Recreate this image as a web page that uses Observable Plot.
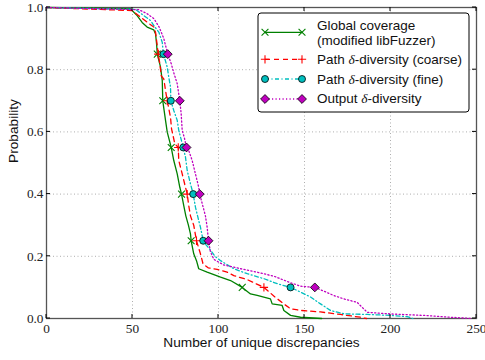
<!DOCTYPE html>
<html>
<head>
<meta charset="utf-8">
<script src="https://cdn.jsdelivr.net/npm/d3@7"></script>
<script src="https://cdn.jsdelivr.net/npm/@observablehq/plot@0.6"></script>
<style>
  html, body { margin: 0; padding: 0; background: #fff; }
  #chart svg { display: block; }
</style>
</head>
<body>
<div id="chart"></div>
<script>
// Axis ticks
const xTicks = [0, 50, 100, 150, 200, 250];
const yTicks = [0, 0.2, 0.4, 0.6, 0.8, 1.0];

// Probability levels where markers are placed on each curve
const markP = [0.85, 0.7, 0.55, 0.4, 0.25, 0.1];

// Global coverage (modified libFuzzer)
const globalX = [0, 48.8, 52.7, 55.6, 58.5, 62.4, 63.4, 64.0, 64.4, 66.3, 67.3, 67.6, 69.2, 70.2, 72.5, 74.0, 76.0, 77.5, 78.5, 79.8, 81.0, 82.5, 83.7, 84.1, 85.6, 87.2, 88.5, 93.4, 101.2, 107.0, 113.8, 118.6, 122.5, 130.2, 131.2, 137.0, 138.0, 141.9, 147.7, 160];
const globalY = [1.0, 0.996, 0.974, 0.952, 0.937, 0.928, 0.915, 0.883, 0.85, 0.808, 0.765, 0.70, 0.637, 0.599, 0.55, 0.508, 0.465, 0.422, 0.40, 0.363, 0.33, 0.30, 0.272, 0.25, 0.208, 0.186, 0.16, 0.149, 0.133, 0.122, 0.10, 0.079, 0.074, 0.063, 0.047, 0.042, 0.026, 0.010, 0.004, 0.0];
const globalMarkX = [64.4, 67.6, 72.5, 78.5, 84.1, 113.8];

// Path δ-diversity (coarse)
const coarseX = [0, 49.8, 54.7, 58.5, 62.4, 63.4, 64.0, 65.0, 65.9, 66.7, 68.2, 69.2, 70.2, 72.1, 72.7, 74.6, 76.6, 76.9, 78.9, 80.8, 81.8, 82.7, 83.7, 85.6, 87.2, 89.5, 91.0, 94.0, 99.2, 105.0, 108.9, 116.7, 126.4, 133.1, 138.0, 141.9, 147.7, 159.3, 170.9, 182.6, 186];
const coarseY = [1.0, 0.99, 0.969, 0.953, 0.937, 0.92, 0.894, 0.85, 0.819, 0.78, 0.77, 0.733, 0.70, 0.647, 0.61, 0.562, 0.55, 0.508, 0.465, 0.422, 0.40, 0.363, 0.33, 0.30, 0.25, 0.208, 0.176, 0.163, 0.158, 0.149, 0.138, 0.125, 0.10, 0.068, 0.047, 0.031, 0.026, 0.021, 0.013, 0.004, 0.0];
const coarseMarkX = [65.0, 70.2, 76.6, 81.8, 87.2, 126.4];

// Path δ-diversity (fine)
const fineX = [0, 51.7, 56.6, 60.5, 62.4, 65.3, 67.3, 68.0, 70.2, 71.1, 72.1, 72.3, 74.0, 76.0, 76.9, 79.5, 80.8, 81.8, 83.7, 85.3, 86.6, 88.5, 89.5, 91.1, 93.0, 95.5, 98.0, 101.2, 108.9, 116.7, 126.4, 134.1, 141.9, 147.7, 153.5, 159.3, 165.1, 172.9, 186.5, 200, 209.7, 213];
const fineY = [1.0, 0.994, 0.974, 0.958, 0.942, 0.921, 0.888, 0.85, 0.808, 0.776, 0.744, 0.70, 0.669, 0.637, 0.605, 0.55, 0.519, 0.476, 0.433, 0.40, 0.358, 0.315, 0.294, 0.25, 0.235, 0.219, 0.20, 0.186, 0.160, 0.144, 0.128, 0.112, 0.10, 0.085, 0.069, 0.047, 0.026, 0.015, 0.013, 0.01, 0.006, 0.0];
const fineMarkX = [68.0, 72.3, 79.5, 85.3, 91.1, 141.9];

// Output δ-diversity
const outputX = [0, 53.7, 58.5, 62.5, 65.5, 68.2, 70.5, 72.5, 74.0, 76.0, 77.5, 78.3, 78.9, 80.2, 81.4, 82.7, 84.7, 86.6, 88.5, 89.1, 90.5, 92.4, 93.4, 94.2, 95.3, 97.3, 103.1, 112.8, 122.5, 132.2, 141.9, 147.7, 156.0, 161.2, 167.0, 172.9, 180.6, 183.5, 186.5, 194.2, 202, 219.4, 234.9, 247.5];
const outputY = [1.0, 0.993, 0.98, 0.964, 0.937, 0.90, 0.85, 0.82, 0.79, 0.755, 0.70, 0.658, 0.605, 0.58, 0.55, 0.54, 0.508, 0.465, 0.422, 0.40, 0.37, 0.33, 0.294, 0.25, 0.215, 0.19, 0.172, 0.160, 0.149, 0.136, 0.115, 0.104, 0.10, 0.088, 0.074, 0.063, 0.052, 0.036, 0.020, 0.017, 0.014, 0.010, 0.004, 0.0];
const outputMarkX = [70.5, 77.5, 81.4, 89.1, 94.2, 156.0];

const seriesNames = ["Global coverage", "Path δ-diversity (coarse)", "Path δ-diversity (fine)", "Output δ-diversity"];

const GREEN = "#008000", RED = "#ff0000", CYAN = "#00bfbf", MAGENTA = "#bf00bf";
const SANS = "'Liberation Sans', Arial, Helvetica, sans-serif";
const SERIF = "'Liberation Serif', 'Times New Roman', serif";

const pts = (xs, ys) => xs.map((x, i) => ({x, y: ys[i]}));

const styles = [
  {xs: globalX, ys: globalY, mx: globalMarkX, stroke: GREEN, dash: null, symbol: "times", r: 3.2, fill: "none", mStroke: GREEN, mWidth: 1.1},
  {xs: coarseX, ys: coarseY, mx: coarseMarkX, stroke: RED, dash: "5,4", symbol: "plus", r: 2.8, fill: "none", mStroke: RED, mWidth: 1.1},
  {xs: fineX, ys: fineY, mx: fineMarkX, stroke: CYAN, dash: "4,2.5,1,2.5", symbol: "circle", r: 3.5, fill: CYAN, mStroke: "#000", mWidth: 0.8},
  {xs: outputX, ys: outputY, mx: outputMarkX, stroke: MAGENTA, dash: "1.2,2.3", symbol: "diamond2", r: 4, fill: MAGENTA, mStroke: "#000", mWidth: 0.8}
];

const marks = [
  // dotted grid
  Plot.ruleX(xTicks, {stroke: "#999", strokeWidth: 0.8, strokeDasharray: "1,2.5"}),
  Plot.ruleY(yTicks, {stroke: "#999", strokeWidth: 0.8, strokeDasharray: "1,2.5"}),
  Plot.frame({stroke: "#555", strokeWidth: 1.3})
];
for (const s of styles) {
  marks.push(Plot.line(pts(s.xs, s.ys), {x: "x", y: "y", stroke: s.stroke, strokeWidth: 1.3, strokeDasharray: s.dash}));
}
for (const s of styles) {
  marks.push(Plot.dot(s.mx.map((x, i) => ({x, y: markP[i]})), {
    x: "x", y: "y", symbol: s.symbol, r: s.r, fill: s.fill, stroke: s.mStroke, strokeWidth: s.mWidth
  }));
}
marks.push(
  Plot.axisX(xTicks, {tickSize: 0, tickPadding: 5, fontSize: 13.3, fontFamily: SERIF, fill: "#222", label: null, tickFormat: d => String(d)}),
  Plot.axisY(yTicks, {tickSize: 0, tickPadding: 3, fontSize: 13.3, fontFamily: SERIF, fill: "#222", label: null, tickFormat: d3.format(".1f")}),
  Plot.text(["Number of unique discrepancies"], {frameAnchor: "bottom", dy: 28, text: d => d, fontSize: 13.7, fontFamily: SANS, fill: "#111"}),
  Plot.text(["Probability"], {frameAnchor: "left", dx: -33, rotate: -90, text: d => d, fontSize: 13.7, fontFamily: SANS, fill: "#111"})
);

const plot = Plot.plot({
  width: 485,
  height: 360,
  marginLeft: 46,
  marginRight: 9,
  marginTop: 7,
  marginBottom: 42,
  x: {domain: [0, 250]},
  y: {domain: [0, 1]},
  style: {background: "#fff", overflow: "visible", fontFamily: SERIF},
  marks
});

document.getElementById("chart").appendChild(plot);

const svg = d3.select(plot);
// serif tick labels
svg.selectAll("[aria-label='x-axis tick label'], [aria-label='y-axis tick label']")
  .attr("font-family", SERIF).attr("font-size", 13.3);

// Inward tick marks on all four sides
const sx = plot.scale("x"), sy = plot.scale("y");
const edgeL = sx.apply(0), edgeR = sx.apply(250), edgeT = sy.apply(1), edgeB = sy.apply(0);
const tg = svg.append("g").attr("stroke", "#000").attr("stroke-width", 1);
for (const t of xTicks) {
  const px = sx.apply(t);
  tg.append("line").attr("x1", px).attr("x2", px).attr("y1", edgeB).attr("y2", edgeB - 4);
  tg.append("line").attr("x1", px).attr("x2", px).attr("y1", edgeT).attr("y2", edgeT + 4);
}
for (const t of yTicks) {
  const py = sy.apply(t);
  tg.append("line").attr("y1", py).attr("y2", py).attr("x1", edgeL).attr("x2", edgeL + 4);
  tg.append("line").attr("y1", py).attr("y2", py).attr("x1", edgeR).attr("x2", edgeR - 4);
}

// Legend box
const symbolMap = {times: d3.symbolTimes, plus: d3.symbolPlus, circle: d3.symbolCircle, diamond2: d3.symbolDiamond2};
const lg = svg.append("g").attr("text-anchor", "start");
lg.append("rect").attr("x", 258).attr("y", 13).attr("width", 211).attr("height", 99).attr("rx", 3)
  .attr("fill", "#fff").attr("stroke", "#000").attr("stroke-width", 1);
const rowY = [32.3, 59.3, 79, 99];
const lx1 = 265, lx2 = 302, ltx = 317;
styles.forEach((s, i) => {
  const yy = rowY[i];
  lg.append("line").attr("x1", lx1).attr("x2", lx2).attr("y1", yy).attr("y2", yy)
    .attr("stroke", s.stroke).attr("stroke-width", 1.3).attr("stroke-dasharray", s.dash);
  for (const xx of [lx1, lx2]) {
    lg.append("path").attr("d", d3.symbol(symbolMap[s.symbol], Math.PI * s.r * s.r)())
      .attr("transform", `translate(${xx},${yy})`)
      .attr("fill", s.fill).attr("stroke", s.mStroke).attr("stroke-width", s.mWidth);
  }
});
function legendText(yy, str) {
  const t = lg.append("text").attr("x", ltx).attr("y", yy).attr("text-anchor", "start")
    .attr("font-family", SANS).attr("font-size", 13.5).attr("fill", "#111");
  const parts = str.split("δ");
  parts.forEach((p, k) => {
    if (k > 0) t.append("tspan").attr("font-family", SERIF).attr("font-style", "italic").text("δ");
    t.append("tspan").text(p);
  });
}
legendText(29.7, seriesNames[0]);
legendText(44.5, "(modified libFuzzer)");
legendText(63.8, seriesNames[1]);
legendText(83.5, seriesNames[2]);
legendText(103.3, seriesNames[3]);
</script>
</body>
</html>
